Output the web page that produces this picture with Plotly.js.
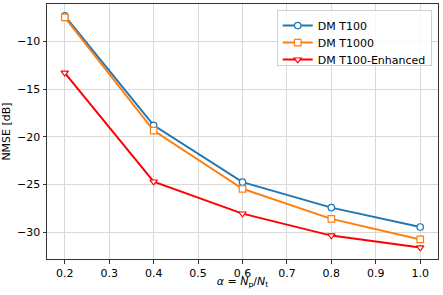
<!DOCTYPE html>
<html><head><meta charset="utf-8">
<script src="https://cdn.plot.ly/plotly-3.0.1.min.js"></script>
<style>html,body{margin:0;padding:0;background:#fff}#chart{width:443px;height:295px}</style>
</head><body><div id="chart"></div>
<script>
const alpha = [0.2, 0.4, 0.6, 0.8, 1.0];
const dmT100 = [-7.35, -18.8, -24.75, -27.42, -29.45];
const dmT1000 = [-7.5, -19.35, -25.45, -28.6, -30.75];
const dmT100Enh = [-13.3, -24.7, -28.05, -30.35, -31.6];
const names = ['DM T100', 'DM T1000', 'DM T100-Enhanced'];

const mk = (y, name, color, symbol) => ({
  x: alpha, y: y, name: name, type: 'scatter', mode: 'lines+markers',
  line: {color: color, width: 2},
  marker: {symbol: symbol, size: 6.5, color: '#ffffff', line: {color: color, width: 1.2}}
});
const data = [
  mk(dmT100, names[0], '#1f77b4', 'circle'),
  mk(dmT1000, names[1], '#ff7f0e', 'square'),
  mk(dmT100Enh, names[2], '#ff0000', 'triangle-down')
];
const font = {family: 'DejaVu Sans, sans-serif', size: 11, color: '#000'};
const layout = {
  width: 443, height: 295,
  margin: {l: 47, r: 5, t: 4, b: 36},
  paper_bgcolor: '#fff', plot_bgcolor: '#fff',
  font: font,
  showlegend: true,
  legend: {x: 0.984, xanchor: 'right', y: 0.976, yanchor: 'top',
    bgcolor: 'rgba(255,255,255,0.8)', bordercolor: '#d0d0d0', borderwidth: 1,
    font: font, itemwidth: 30},
  xaxis: {
    range: [0.16, 1.04], tickvals: [0.2,0.3,0.4,0.5,0.6,0.7,0.8,0.9,1.0],
    ticktext: ['0.2','0.3','0.4','0.5','0.6','0.7','0.8','0.9','1.0'],
    showgrid: true, gridcolor: '#d9d9d9', gridwidth: 1,
    showline: true, linecolor: '#333', linewidth: 1, mirror: true,
    ticks: 'outside', ticklen: 3.5, tickcolor: '#333', zeroline: false,
    title: {text: '<i>α</i> = <i>N</i><sub>p</sub>/<i>N</i><sub>t</sub>', font: font, standoff: 0}
  },
  yaxis: {
    range: [-32.8, -6.1], tickvals: [-10, -15, -20, -25, -30],
    ticktext: ['−10', '−15', '−20', '−25', '−30'],
    showgrid: true, gridcolor: '#d9d9d9', gridwidth: 1,
    showline: true, linecolor: '#333', linewidth: 1, mirror: true,
    ticks: 'outside', ticklen: 3.5, tickcolor: '#333', zeroline: false,
    title: {text: 'NMSE [dB]', font: font, standoff: 4}
  }
};
Plotly.newPlot('chart', data, layout, {staticPlot: true, displayModeBar: false}).then(gd => {
  // tighten legend row spacing to match the reference
  const step = 17;
  const traces = gd.querySelectorAll('.legend .traces');
  const getY = el => {
    const m = /translate\(\s*([-\d.]+)[ ,]+([-\d.]+)\s*\)/.exec(el.getAttribute('transform') || '');
    return m ? [parseFloat(m[1]), parseFloat(m[2])] : [0, 0];
  };
  if (traces.length >= 2) {
    const first = getY(traces[0]);
    const oldStep = getY(traces[1])[1] - first[1];
    traces.forEach((t, i) => {
      const p = getY(t);
      t.setAttribute('transform', `translate(${p[0]},${first[1] + i * step})`);
    });
    const shrink = (oldStep - step) * (traces.length - 1) + 9;
    gd.querySelectorAll('.legend rect.bg').forEach(r => {
      const h = parseFloat(r.getAttribute('height'));
      r.setAttribute('height', h - shrink);
    });
  }
  // nudge x-axis title a little closer to tick labels, like the reference
  const xt = gd.querySelector('.g-xtitle');
  if (xt) {
    const prev = xt.getAttribute('transform') || '';
    xt.setAttribute('transform', 'translate(0,-5) ' + prev);
  }
});
</script></body></html>
